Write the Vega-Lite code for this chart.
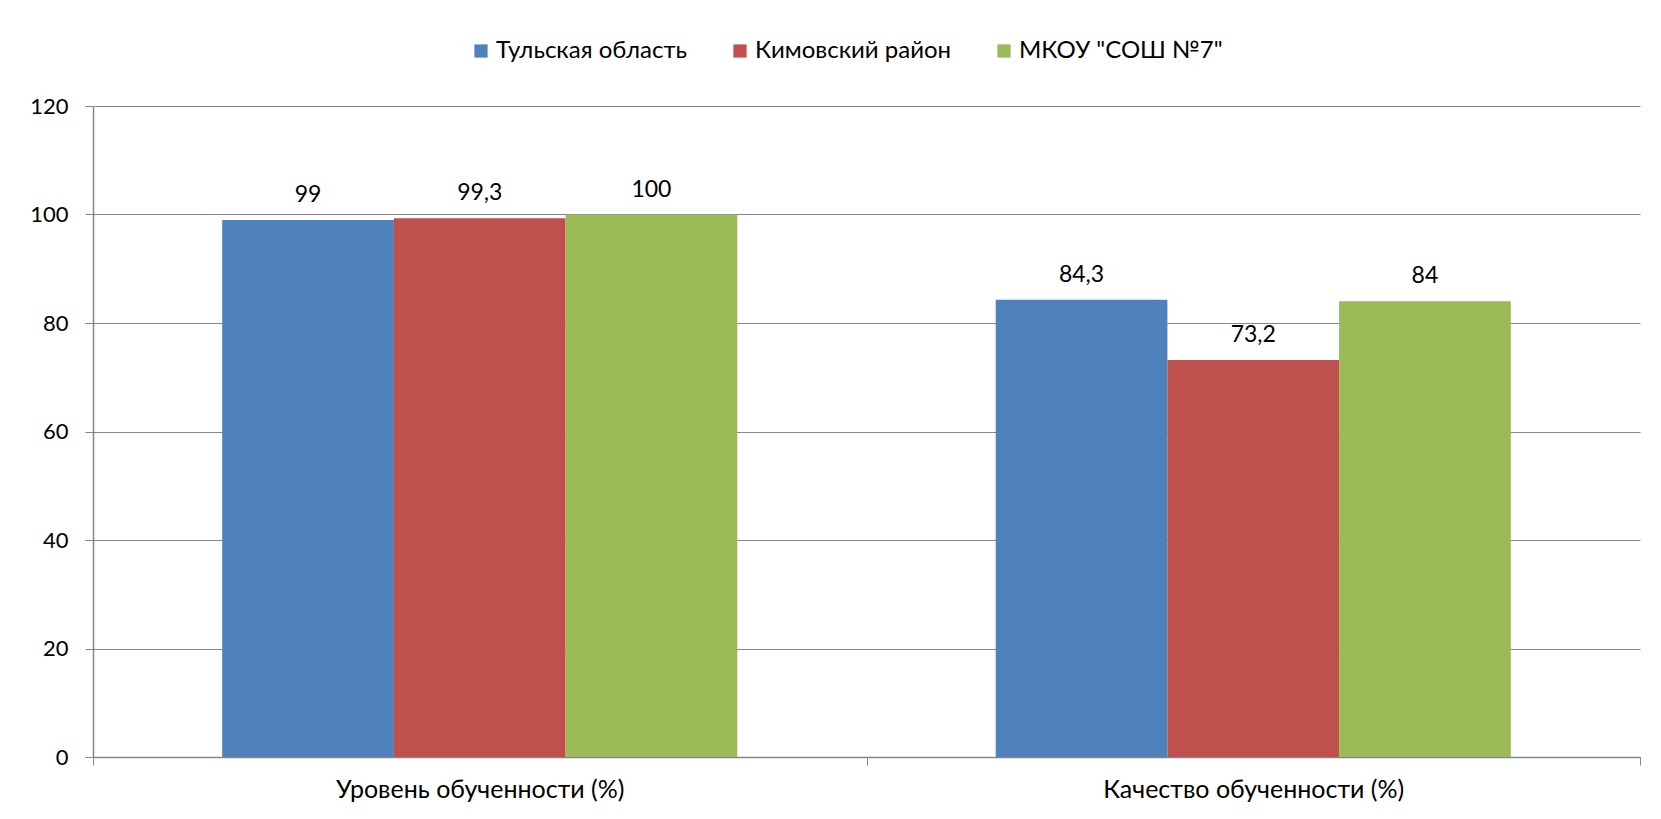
{
  "$schema": "https://vega.github.io/schema/vega-lite/v6.json",
  "autosize": "none",
  "width": 1547,
  "height": 651,
  "padding": {"left": 93, "top": 106, "right": 21, "bottom": 62},
  "background": "white",
  "config": {
    "font": "Lato",
    "view": {"stroke": null},
    "axis": {"labelFont": "Lato", "labelColor": "#000000", "domainColor": "#868686", "tickColor": "#868686", "gridColor": "#868686", "labelLimit": 0}
  },
  "data": {
    "values": [
      {"category": "Уровень обученности (%)", "series": "Тульская область", "value": 99, "label": "99"},
      {"category": "Уровень обученности (%)", "series": "Кимовский район", "value": 99.3, "label": "99,3"},
      {"category": "Уровень обученности (%)", "series": "МКОУ \"СОШ №7\"", "value": 100, "label": "100"},
      {"category": "Качество обученности (%)", "series": "Тульская область", "value": 84.3, "label": "84,3"},
      {"category": "Качество обученности (%)", "series": "Кимовский район", "value": 73.2, "label": "73,2"},
      {"category": "Качество обученности (%)", "series": "МКОУ \"СОШ №7\"", "value": 84, "label": "84"}
    ]
  },
  "encoding": {
    "x": {
      "field": "category", "type": "nominal",
      "sort": ["Уровень обученности (%)", "Качество обученности (%)"],
      "scale": {"paddingInner": 0, "paddingOuter": 0},
      "axis": {"title": null, "labelAngle": 0, "labelFontSize": 25, "tickBand": "extent", "tickSize": 8, "labelPadding": 12, "domainWidth": 1.5, "grid": false, "labelLimit": 0}
    },
    "xOffset": {
      "field": "series", "type": "nominal",
      "sort": ["Тульская область", "Кимовский район", "МКОУ \"СОШ №7\""],
      "scale": {"paddingInner": 0, "paddingOuter": 0.7525}
    },
    "y": {
      "field": "value", "type": "quantitative",
      "scale": {"domain": [0, 120], "nice": false},
      "axis": {"title": null, "values": [0, 20, 40, 60, 80, 100, 120], "labelFontSize": 22, "tickSize": 8, "labelPadding": 17, "gridWidth": 1.2, "domainWidth": 1.5}
    }
  },
  "layer": [
    {
      "mark": {"type": "bar"},
      "encoding": {
        "color": {
          "field": "series", "type": "nominal",
          "sort": ["Тульская область", "Кимовский район", "МКОУ \"СОШ №7\""],
          "scale": {"domain": ["Тульская область", "Кимовский район", "МКОУ \"СОШ №7\""], "range": ["#4F81BD", "#C0504D", "#9BBB59"]},
          "legend": {
            "title": null, "orient": "none", "legendX": 376, "legendY": -67,
            "direction": "horizontal", "columns": 3, "symbolType": "square", "symbolSize": 175,
            "symbolStrokeWidth": 0, "labelFontSize": 24, "labelFont": "Lato", "labelColor": "#000000",
            "columnPadding": 40, "labelOffset": 3, "labelLimit": 0
          }
        }
      }
    },
    {
      "mark": {"type": "text", "fontSize": 23, "font": "Lato", "color": "#000000", "baseline": "alphabetic", "dy": -18},
      "encoding": {"text": {"field": "label"}}
    }
  ]
}
